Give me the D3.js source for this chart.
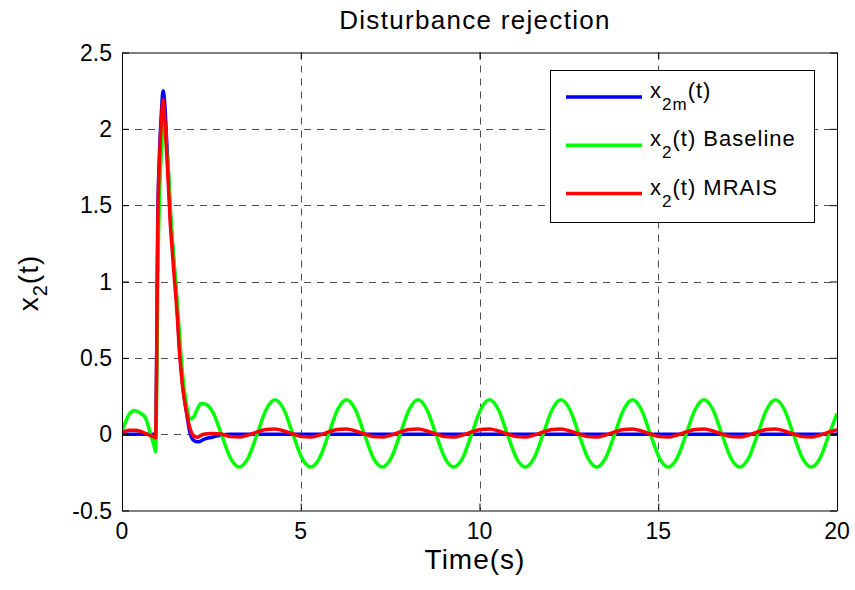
<!DOCTYPE html>
<html lang="en">
    <head>
        <meta charset="utf-8">
        <title>Disturbance rejection</title>
        <script src="https://d3js.org/d3.v7.min.js"></script>
        <style type="text/css">
            body { margin: 0; background: white; }
            text { font-family: "Liberation Sans", Arial, sans-serif; fill: black; }
            .tick-label { font-size: 23px; }
            .title { font-size: 26px; letter-spacing: 1.3px; }
            .axis-label { font-size: 28px; letter-spacing: 1px; }
            .legend-text { font-size: 22px; letter-spacing: 1px; }
        </style>
    </head>
    <body>
        <script type="text/javascript">
            // time samples (s)
            const time = [
                0, 0.1, 0.2, 0.35, 0.5, 0.65, 0.8, 0.9, 0.94,
                0.97, 1.0, 1.05, 1.1, 1.15, 1.2, 1.25, 1.3, 1.35, 1.4, 1.45,
                1.5, 1.55, 1.6, 1.65, 1.7, 1.8, 1.9, 2.0, 2.1, 2.2,
                2.28, 2.53,
                2.78, 3.03, 3.28, 3.53, 3.78, 4.03, 4.28, 4.53,
                4.78, 5.03, 5.28, 5.53, 5.78, 6.03, 6.28, 6.53,
                6.78, 7.03, 7.28, 7.53, 7.78, 8.03, 8.28, 8.53,
                8.78, 9.03, 9.28, 9.53, 9.78, 10.03, 10.28, 10.53,
                10.78, 11.03, 11.28, 11.53, 11.78, 12.03, 12.28, 12.53,
                12.78, 13.03, 13.28, 13.53, 13.78, 14.03, 14.28, 14.53,
                14.78, 15.03, 15.28, 15.53, 15.78, 16.03, 16.28, 16.53,
                16.78, 17.03, 17.28, 17.53, 17.78, 18.03, 18.28, 18.53,
                18.78, 19.03, 19.28, 19.53, 19.78, 20
            ];

            // x2m(t)
            const x2m = [
                0, 0, 0, 0, 0, 0, 0, 0, -0.01,
                0.52, 1.4, 1.85, 2.1, 2.25, 2.15, 1.92, 1.7, 1.45, 1.28, 1.12,
                0.98, 0.8, 0.6, 0.45, 0.32, 0.15, 0.01, -0.04, -0.05, -0.045,
                -0.035, -0.02,
                -0.005, 0, 0, 0, 0, 0, 0, 0,
                0, 0, 0, 0, 0, 0, 0, 0,
                0, 0, 0, 0, 0, 0, 0, 0,
                0, 0, 0, 0, 0, 0, 0, 0,
                0, 0, 0, 0, 0, 0, 0, 0,
                0, 0, 0, 0, 0, 0, 0, 0,
                0, 0, 0, 0, 0, 0, 0, 0,
                0, 0, 0, 0, 0, 0, 0, 0,
                0, 0, 0, 0, 0, 0
            ];

            // x2(t) Baseline
            const baseline = [
                0.02, 0.08, 0.13, 0.155, 0.14, 0.11, 0.0, -0.08, -0.115,
                0.3, 1.0, 1.55, 1.85, 2.0, 2.03, 1.85, 1.72, 1.5, 1.3, 1.15,
                1.0, 0.85, 0.68, 0.52, 0.38, 0.2, 0.1, 0.11, 0.16, 0.2,
                0.2, 0.15,
                0, -0.155, -0.215, -0.155, 0, 0.16, 0.225, 0.16,
                0, -0.155, -0.215, -0.155, 0, 0.16, 0.225, 0.16,
                0, -0.155, -0.215, -0.155, 0, 0.16, 0.225, 0.16,
                0, -0.155, -0.215, -0.155, 0, 0.16, 0.225, 0.16,
                0, -0.155, -0.215, -0.155, 0, 0.16, 0.225, 0.16,
                0, -0.155, -0.215, -0.155, 0, 0.16, 0.225, 0.16,
                0, -0.155, -0.215, -0.155, 0, 0.16, 0.225, 0.16,
                0, -0.155, -0.215, -0.155, 0, 0.16, 0.225, 0.16,
                0, -0.155, -0.215, -0.155, 0, 0.135
            ];

            // x2(t) MRAIS
            const mrais = [
                0.01, 0.02, 0.025, 0.025, 0.02, 0.005, -0.01, -0.02, -0.025,
                0.5, 1.35, 1.8, 2.05, 2.19, 2.05, 1.84, 1.62, 1.38, 1.22, 1.06,
                0.92, 0.76, 0.56, 0.42, 0.3, 0.15, 0.04, -0.01, -0.02, -0.01,
                0.0, 0.005,
                0.001, -0.016, -0.019, -0.006, 0.014, 0.031, 0.034, 0.021,
                0.001, -0.016, -0.019, -0.006, 0.014, 0.031, 0.034, 0.021,
                0.001, -0.016, -0.019, -0.006, 0.014, 0.031, 0.034, 0.021,
                0.001, -0.016, -0.019, -0.006, 0.014, 0.031, 0.034, 0.021,
                0.001, -0.016, -0.019, -0.006, 0.014, 0.031, 0.034, 0.021,
                0.001, -0.016, -0.019, -0.006, 0.014, 0.031, 0.034, 0.021,
                0.001, -0.016, -0.019, -0.006, 0.014, 0.031, 0.034, 0.021,
                0.001, -0.016, -0.019, -0.006, 0.014, 0.031, 0.034, 0.021,
                0.001, -0.016, -0.019, -0.006, 0.014, 0.03
            ];

            const xTicks = [0, 5, 10, 15, 20];
            const yTicks = [-0.5, 0, 0.5, 1, 1.5, 2, 2.5];

            // series: label main part, subscript, rest
            const seriesNames = [
                ["x", "2m", "(t)"],
                ["x", "2", "(t) Baseline"],
                ["x", "2", "(t) MRAIS"]
            ];
            const seriesColors = ["#0000ff", "#00ff00", "#ff0000"];
            const seriesValues = [x2m, baseline, mrais];

            //constants
            const w = 855;
            const h = 590;
            const pLeft = 122, pRight = 837, pTop = 52.5, pBottom = 510.5;
            const tickLen = 7;

            const svg = d3.select("body")
                          .append("svg")
                          .attr("width", w)
                          .attr("height", h);

            svg.append("rect").attr("width", w).attr("height", h).attr("fill", "white");

            const x = d3.scaleLinear().domain([0, 20]).range([pLeft, pRight]);
            const y = d3.scaleLinear().domain([-0.5, 2.5]).range([pBottom, pTop]);

            // grid
            const grid = svg.append("g")
                            .attr("stroke", "#4d4d4d")
                            .attr("stroke-width", 1)
                            .attr("stroke-dasharray", "7,6");
            grid.selectAll("line.vg")
                .data(xTicks.slice(1, -1))
                .enter().append("line")
                .attr("class", "vg")
                .attr("x1", d => Math.round(x(d)) + 0.5).attr("x2", d => Math.round(x(d)) + 0.5)
                .attr("y1", pTop).attr("y2", pBottom);
            grid.selectAll("line.hg")
                .data(yTicks.slice(1, -1))
                .enter().append("line")
                .attr("class", "hg")
                .attr("y1", d => Math.round(y(d)) + 0.5).attr("y2", d => Math.round(y(d)) + 0.5)
                .attr("x1", pLeft).attr("x2", pRight);

            // lines
            svg.append("clipPath").attr("id", "clip")
               .append("rect")
               .attr("x", pLeft).attr("y", pTop)
               .attr("width", pRight - pLeft).attr("height", pBottom - pTop);

            const line = d3.line()
                           .x((d, i) => x(time[i]))
                           .y(d => y(d))
                           .curve(d3.curveMonotoneX);

            svg.append("g")
               .attr("clip-path", "url(#clip)")
               .selectAll("path")
               .data(seriesValues)
               .enter().append("path")
               .attr("fill", "none")
               .attr("stroke", (d, i) => seriesColors[i])
               .attr("stroke-width", 3.5)
               .attr("stroke-linejoin", "round")
               .attr("d", line);

            // axes (box with inward ticks on all sides)
            const xAxisB = d3.axisBottom(x).tickValues(xTicks).tickSizeInner(-tickLen).tickSizeOuter(0).tickFormat("");
            const xAxisT = d3.axisTop(x).tickValues(xTicks).tickSizeInner(-tickLen).tickSizeOuter(0).tickFormat("");
            const yAxisL = d3.axisLeft(y).tickValues(yTicks).tickSizeInner(-tickLen).tickSizeOuter(0).tickFormat("");
            const yAxisR = d3.axisRight(y).tickValues(yTicks).tickSizeInner(-tickLen).tickSizeOuter(0).tickFormat("");

            svg.append("g").attr("transform", "translate(0," + pBottom + ")").call(xAxisB);
            svg.append("g").attr("transform", "translate(0," + pTop + ")").call(xAxisT);
            svg.append("g").attr("transform", "translate(" + pLeft + ",0)").call(yAxisL);
            svg.append("g").attr("transform", "translate(" + pRight + ",0)").call(yAxisR);
            svg.selectAll(".domain, .tick line").attr("stroke", "black").attr("stroke-width", 1);

            // tick labels
            svg.selectAll("text.xt")
               .data(xTicks)
               .enter().append("text")
               .attr("class", "tick-label xt")
               .attr("x", d => x(d))
               .attr("y", 539)
               .attr("text-anchor", "middle")
               .text(d => d);

            svg.selectAll("text.yt")
               .data(yTicks)
               .enter().append("text")
               .attr("class", "tick-label yt")
               .attr("x", 112)
               .attr("y", d => y(d) + 8)
               .attr("text-anchor", "end")
               .text(d => d);

            // title
            svg.append("text")
               .attr("class", "title")
               .attr("x", 475)
               .attr("y", 29)
               .attr("text-anchor", "middle")
               .text("Disturbance rejection");

            // x label
            svg.append("text")
               .attr("class", "axis-label")
               .attr("x", 475)
               .attr("y", 569)
               .attr("text-anchor", "middle")
               .text("Time(s)");

            // y label
            const yl = svg.append("text")
                          .attr("class", "axis-label")
                          .attr("transform", "translate(38,283) rotate(-90)")
                          .attr("text-anchor", "middle");
            yl.append("tspan").text("x");
            yl.append("tspan").attr("dy", 9).style("font-size", "20px").text("2");
            yl.append("tspan").attr("dy", -9).text("(t)");

            // legend
            const legend = svg.append("g");
            legend.append("rect")
                  .attr("x", 550.5).attr("y", 70.5)
                  .attr("width", 264).attr("height", 152)
                  .attr("fill", "white")
                  .attr("stroke", "black")
                  .attr("stroke-width", 1);

            const items = legend.selectAll("g.item")
                                .data(seriesNames)
                                .enter().append("g")
                                .attr("class", "item")
                                .attr("transform", (d, i) => "translate(0," + (97 + i * 48.3) + ")");
            items.append("line")
                 .attr("x1", 566).attr("x2", 642)
                 .attr("stroke", (d, i) => seriesColors[i])
                 .attr("stroke-width", 3.5);
            const lt = items.append("text")
                            .attr("class", "legend-text")
                            .attr("x", 650)
                            .attr("y", 1);
            lt.append("tspan").text(d => d[0]);
            lt.append("tspan").attr("dy", 12).style("font-size", "17px").text(d => d[1]);
            lt.append("tspan").attr("dy", -12).text(d => d[2]);
        </script>
    </body>
</html>
